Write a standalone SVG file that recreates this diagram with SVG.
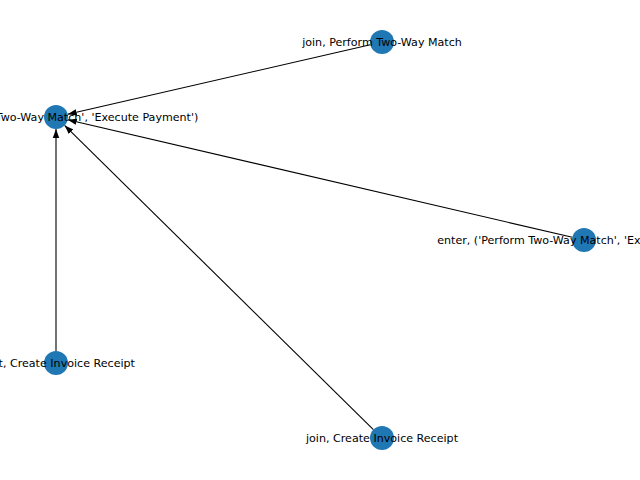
<svg xmlns="http://www.w3.org/2000/svg" width="640" height="480" viewBox="0 0 640 480">
<style>
.node{fill:#1f77b4;}
.edge{stroke:#000;stroke-width:1.1;fill:none;marker-end:url(#arr);}
.lbl{font-family:"DejaVu Sans",sans-serif;font-size:11.1px;fill:#000;text-anchor:middle;dominant-baseline:central;}
</style>
<defs>
<marker id="arr" markerUnits="userSpaceOnUse" markerWidth="10" markerHeight="8" viewBox="0 0 10 8" refX="9" refY="4" orient="auto">
<path d="M0,0.8 L9,4 L0,7.2 Z" fill="#000"/>
</marker>
</defs>
<rect width="640" height="480" fill="#fff"/>
<g id="edges">
<line class="edge" x1="370.3" y1="44.7" x2="67.7" y2="114.3"/>
<line class="edge" x1="572.3" y1="237.3" x2="67.7" y2="119.7"/>
<line class="edge" x1="56" y1="351" x2="56" y2="129"/>
<line class="edge" x1="373.4" y1="429.6" x2="64.6" y2="125.4"/>
</g>
<g id="node-exit-payment"><circle class="node" cx="56" cy="117" r="12"/></g>
<g id="node-join-twoway"><circle class="node" cx="382" cy="42" r="12"/></g>
<g id="node-enter-payment"><circle class="node" cx="584" cy="240" r="12"/></g>
<g id="node-start-invoice"><circle class="node" cx="56" cy="363" r="12"/></g>
<g id="node-join-invoice"><circle class="node" cx="382" cy="438" r="12"/></g>
<g id="labels">
<text class="lbl" x="56" y="117">exit, ('Perform Two-Way Match', 'Execute Payment')</text>
<text class="lbl" x="382" y="42">join, Perform Two-Way Match</text>
<text class="lbl" x="584" y="240">enter, ('Perform Two-Way Match', 'Execute Payment')</text>
<text class="lbl" x="56" y="363">start, Create Invoice Receipt</text>
<text class="lbl" x="382" y="438">join, Create Invoice Receipt</text>
</g>
</svg>
